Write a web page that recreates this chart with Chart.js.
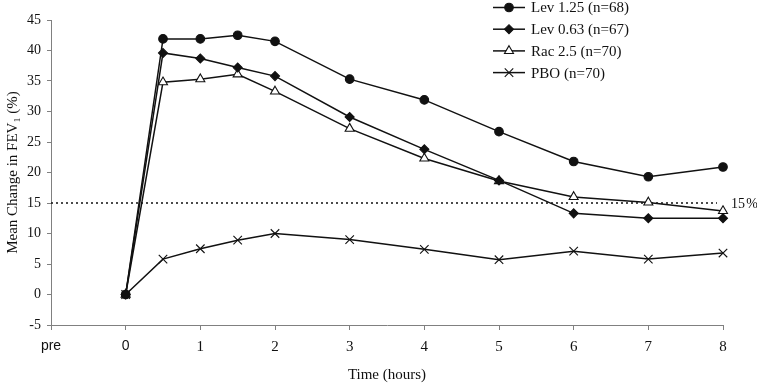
<!DOCTYPE html>
<html>
<head>
<meta charset="utf-8">
<script src="https://cdn.jsdelivr.net/npm/chart.js@4"></script>
<style>
html, body { margin: 0; padding: 0; background: #fff; }
#wrap { width: 757px; height: 384px; }
</style>
</head>
<body>
<div id="wrap"><canvas id="fevChart"></canvas></div>
<script>
// time points (hours after dose), "pre" sits at -1 on the axis
var hours = [0, 0.5, 1, 1.5, 2, 3, 4, 5, 6, 7, 8];
var lev125 = [0, 41.9, 41.9, 42.5, 41.5, 35.3, 31.9, 26.7, 21.8, 19.3, 20.9];
var lev063 = [0, 39.6, 38.7, 37.2, 35.8, 29.1, 23.8, 18.7, 13.3, 12.5, 12.5];
var rac25  = [0, 34.8, 35.3, 36.1, 33.3, 27.2, 22.3, 18.6, 16.0, 15.1, 13.7];
var pbo    = [0, 5.8, 7.5, 8.9, 10.0, 9.0, 7.4, 5.7, 7.1, 5.8, 6.8];
var seriesNames = ['Lev 1.25 (n=68)', 'Lev 0.63 (n=67)', 'Rac 2.5 (n=70)', 'PBO (n=70)'];
var xTickLabels = ['pre', '0', '1', '2', '3', '4', '5', '6', '7', '8'];
var threshold = 15;
var thresholdLabel = '15\u200a%';

var serif = 'Liberation Serif';
var ink = '#111';
var axisGray = '#808080';

function toPoints(vals) {
    return vals.map(function (v, i) { return { x: hours[i], y: v }; });
}

function series(label, vals, style, radius, fill) {
    return {
        label: label,
        data: toPoints(vals),
        borderColor: ink,
        borderWidth: 1.5,
        pointStyle: style,
        pointRadius: radius,
        pointBorderWidth: 1.1,
        pointBorderColor: ink,
        pointBackgroundColor: fill,
        tension: 0,
        clip: false
    };
}

// dotted 15% line + the legend in the top right
var extras = {
    id: 'extras',
    beforeDatasetsDraw: function (chart) {
        var c = chart.ctx, xs = chart.scales.x, ys = chart.scales.y;
        var y = ys.getPixelForValue(threshold);
        c.save();
        c.strokeStyle = ink;
        c.lineWidth = 1.3;
        c.setLineDash([2, 3]);
        c.beginPath();
        c.moveTo(chart.chartArea.left, y);
        c.lineTo(xs.getPixelForValue(7.92), y);
        c.stroke();
        c.restore();
        c.save();
        c.fillStyle = ink;
        c.font = '14px "' + serif + '"';
        c.textBaseline = 'middle';
        c.fillText(thresholdLabel, 731, y + 1);
        c.restore();
    },
    afterDraw: function (chart) {
        var c = chart.ctx;
        chart.data.datasets.forEach(function (ds, i) {
            var y = 7.5 + i * 21.7;
            c.save();
            c.strokeStyle = ink;
            c.lineWidth = 1.5;
            c.beginPath();
            c.moveTo(493, y);
            c.lineTo(525, y);
            c.stroke();
            c.fillStyle = ds.pointBackgroundColor;
            c.strokeStyle = ink;
            c.lineWidth = 1.1;
            Chart.helpers.drawPoint(c, { pointStyle: ds.pointStyle, radius: ds.pointRadius, rotation: 0, borderWidth: 1.1 }, 509, y);
            c.fillStyle = ink;
            c.font = '15px "' + serif + '"';
            c.textBaseline = 'middle';
            c.fillText(ds.label, 531, y + 1);
            c.restore();
        });
    }
};

new Chart(document.getElementById('fevChart'), {
    type: 'line',
    data: {
        datasets: [
            series(seriesNames[0], lev125, 'circle', 4.3, ink),
            series(seriesNames[1], lev063, 'rectRot', 4.5, ink),
            series(seriesNames[2], rac25, 'triangle', 5.2, '#fff'),
            series(seriesNames[3], pbo, 'crossRot', 6, ink)
        ]
    },
    options: {
        responsive: true,
        maintainAspectRatio: false,
        animation: false,
        layout: { padding: { top: 20, right: 34, left: 0, bottom: 0 } },
        plugins: { legend: { display: false }, tooltip: { enabled: false } },
        scales: {
            x: {
                type: 'linear',
                min: -1,
                max: 8,
                afterFit: function (s) { s.height = 59; },
                grid: { drawOnChartArea: false, drawTicks: true, tickLength: 5, color: axisGray },
                border: { color: axisGray, width: 1 },
                ticks: {
                    stepSize: 1,
                    padding: 8,
                    color: ink,
                    maxRotation: 0,
                    callback: function (v) { return xTickLabels[v + 1]; },
                    font: function (ctx) {
                        return ctx.index <= 1 ? { family: 'Liberation Sans', size: 14 } : { family: serif, size: 15 };
                    }
                },
                title: { display: true, text: 'Time (hours)', color: ink, font: { family: serif, size: 15 }, padding: 0 }
            },
            y: {
                min: -5,
                max: 45,
                afterFit: function (s) { s.width = 51; },
                grid: { drawOnChartArea: false, drawTicks: true, tickLength: 4, color: axisGray },
                border: { color: axisGray, width: 1 },
                ticks: { stepSize: 5, padding: 6, color: ink, font: { family: serif, size: 14 } },
                title: { display: true, text: 'Mean Change in FEV\u2081 (%)', color: ink, font: { family: serif, size: 15 }, padding: { top: 4, bottom: 0 } }
            }
        }
    },
    plugins: [extras]
});
</script>
</body>
</html>
